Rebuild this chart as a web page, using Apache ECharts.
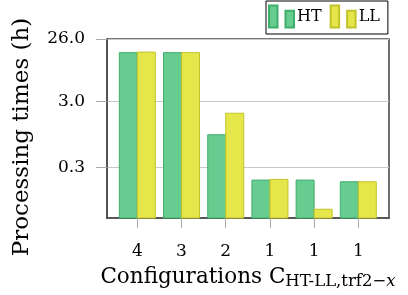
<!DOCTYPE html>
<html>
<head>
<meta charset="utf-8">
<script src="https://cdn.jsdelivr.net/npm/echarts@6/dist/echarts.min.js"></script>
<style>
html,body{margin:0;padding:0;background:#fff;}
#c{width:408px;height:295px;}
</style>
</head>
<body>
<div id="c"></div>
<script>
// ---- data ----
var categories = ['4', '3', '2', '1', '1', '1'];
var htValues = [16.2, 16.2, 0.94, 0.195, 0.195, 0.184];
var llValues = [16.5, 16.2, 1.98, 0.2, 0.071, 0.184];
var yTicks = [0.3, 3.0, 26.0];
var seriesNames = ['HT', 'LL'];

var FONT = 'DejaVu Serif';
var Y_MIN = 0.0524, Y_MAX = 26.001;
var BAR_W = 18;
var chart = echarts.init(document.getElementById('c'), null, {renderer: 'canvas'});

function toPairs(arr) {
  return arr.map(function (v, i) { return [i, v]; });
}
var idx = categories.map(function (c, i) { return i; });

function makeRender(side) {
  return function (params, api) {
    var x = api.value(0), y = api.value(1);
    var top = api.coord([x, y]);
    var base = api.coord([x, Y_MIN]);
    var x0 = side < 0 ? top[0] - BAR_W : top[0];
    return {
      type: 'rect',
      shape: {x: x0, y: top[1], width: BAR_W, height: base[1] - top[1]},
      style: api.style()
    };
  };
}

var barIcon = 'path://M0,0h8.5v22h-8.5z M16.5,5.3h8.5v16.7h-8.5z';

var option = {
  animation: false,
  backgroundColor: '#fff',
  textStyle: {fontFamily: FONT},
  grid: {
    left: 107, top: 39, width: 282, height: 179,
    show: true, borderColor: '#4d4d4d', borderWidth: 1.6, backgroundColor: 'transparent'
  },
  legend: {
    left: 266, top: 1,
    padding: [1, 8, 3, 2],
    borderColor: '#000', borderWidth: 1,
    itemWidth: 25, itemHeight: 22, itemGap: 8,
    icon: barIcon,
    textStyle: {fontFamily: FONT, fontSize: 16, lineHeight: 16, color: '#000', padding: [13, 0, 0, -2]},
    data: seriesNames
  },
  xAxis: {
    type: 'value',
    min: -0.686, max: 5.694,
    axisLine: {show: true, onZero: false, lineStyle: {color: '#4d4d4d', width: 1.6}},
    axisTick: {show: true, length: 10, customValues: idx, lineStyle: {color: '#aaaaaa', width: 1}},
    axisLabel: {
      customValues: idx, margin: 25,
      fontFamily: FONT, fontSize: 17, color: '#000',
      formatter: function (v) { return categories[Math.round(v)]; }
    },
    splitLine: {show: false},
    name: '{m|Configurations C}{s|HT-LL,trf2−}{si|x}',
    nameLocation: 'middle',
    nameGap: 48,
    nameTextStyle: {
      padding: [0, 0, 0, 0],
      rich: {
        m: {fontFamily: FONT, fontSize: 21.5, lineHeight: 24, verticalAlign: 'top', color: '#000'},
        s: {fontFamily: FONT, fontSize: 16.5, lineHeight: 23, verticalAlign: 'bottom', color: '#000'},
        si: {fontFamily: FONT, fontSize: 16.5, fontStyle: 'italic', lineHeight: 23, verticalAlign: 'bottom', color: '#000'}
      }
    }
  },
  yAxis: {
    type: 'log',
    logBase: 10,
    min: Y_MIN, max: Y_MAX,
    axisLine: {show: true, onZero: false, lineStyle: {color: '#4d4d4d', width: 1.6}},
    axisTick: {show: true, length: 11, customValues: yTicks, lineStyle: {color: '#aaaaaa', width: 1}},
    axisLabel: {
      customValues: yTicks, margin: 22,
      fontFamily: FONT, fontSize: 17, color: '#000',
      formatter: function (v) { return Number(v).toFixed(1); }
    },
    splitLine: {show: true, lineStyle: {color: '#c8c8c8', width: 1}},
    name: 'Processing times (h)',
    nameLocation: 'middle',
    nameGap: 73,
    nameTextStyle: {fontFamily: FONT, fontSize: 23, color: '#000', padding: [0, 17, 0, 0]}
  },
  series: [
    {
      name: seriesNames[0], type: 'custom',
      renderItem: makeRender(-1),
      encode: {x: 0, y: 1},
      data: toPairs(htValues),
      itemStyle: {color: '#66cc8f', borderColor: '#3fae6a', borderWidth: 1}
    },
    {
      name: seriesNames[1], type: 'custom',
      renderItem: makeRender(1),
      encode: {x: 0, y: 1},
      data: toPairs(llValues),
      itemStyle: {color: '#e5e64a', borderColor: '#c2c22a', borderWidth: 1}
    }
  ]
};
chart.setOption(option);
</script>
</body>
</html>
